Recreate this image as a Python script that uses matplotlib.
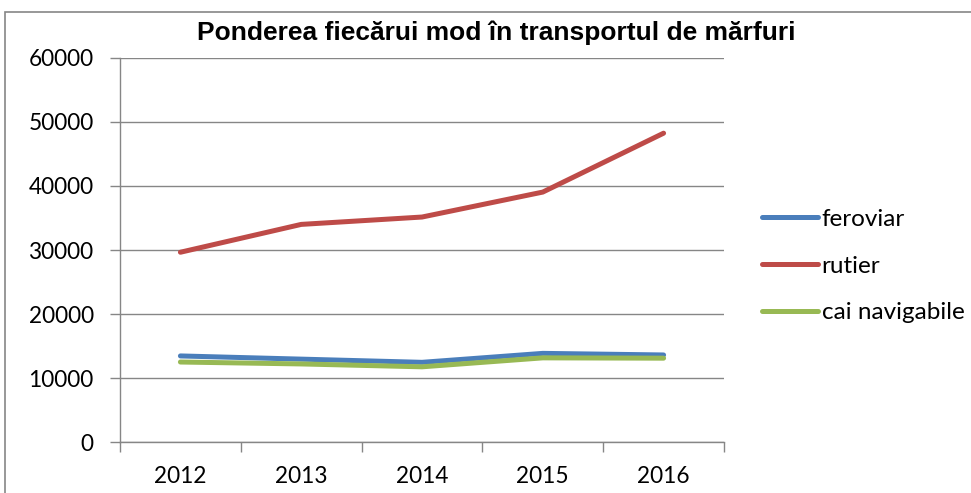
import matplotlib.pyplot as plt
from matplotlib.patches import Rectangle

# ---------------- Data ----------------
years = ["2012", "2013", "2014", "2015", "2016"]
feroviar = [13450, 12950, 12450, 13850, 13600]
rutier = [29650, 34000, 35150, 39050, 48250]
cai_navigabile = [12500, 12200, 11750, 13150, 13100]

title = "Ponderea fiecărui mod în transportul de mărfuri"
series_names = ["feroviar", "rutier", "cai navigabile"]
colors = ["#4A7EBB", "#BE4B48", "#98B954"]
grid_col = "#868686"

plt.rcParams['font.family'] = ['Lato', 'DejaVu Sans']

fig = plt.figure(figsize=(9.71, 4.93), dpi=100)
ax = fig.add_axes([0.1236, 0.1034, 0.622, 0.779])

# outer chart frame (cut off on right and bottom)
fig.patches.append(Rectangle((5 / 971, -0.1), 1.2, 1.1 - 12 / 493,
                             transform=fig.transFigure, fill=False,
                             edgecolor=grid_col, linewidth=1.2))

x = list(range(len(years)))
for vals, name, c in zip([feroviar, rutier, cai_navigabile], series_names, colors):
    ax.plot(x, vals, color=c, linewidth=3.6, solid_capstyle='round', label=name)

ax.set_xlim(-0.5, len(years) - 0.5)
ax.set_ylim(0, 60000)
ax.set_yticks(range(0, 60001, 10000))
ax.set_xticks(x)
ax.set_xticklabels(years)
ax.set_xticks([i - 0.5 for i in range(len(years) + 1)], minor=True)
ax.tick_params(axis='x', which='major', length=0, labelsize=16.3, pad=17)
ax.tick_params(axis='x', which='minor', length=7, color=grid_col, width=1)
ax.tick_params(axis='y', length=7, color=grid_col, width=1, labelsize=16.3, pad=12)

ax.grid(axis='y', color=grid_col, linewidth=1)
ax.set_axisbelow(True)
for s in ['top', 'right']:
    ax.spines[s].set_visible(False)
for s in ['left', 'bottom']:
    ax.spines[s].set_color(grid_col)
    ax.spines[s].set_linewidth(1)

fig.text(0.511, 0.933, title, ha='center', va='center', fontsize=19,
         fontweight='bold', family=['Liberation Sans', 'DejaVu Sans'])

ax.legend(loc='center left', bbox_to_anchor=(1.027, 0.458), frameon=False,
          fontsize=17.5, handlelength=2.3, handletextpad=0.15, labelspacing=1.06)

fig.savefig("out.png", dpi=100)
